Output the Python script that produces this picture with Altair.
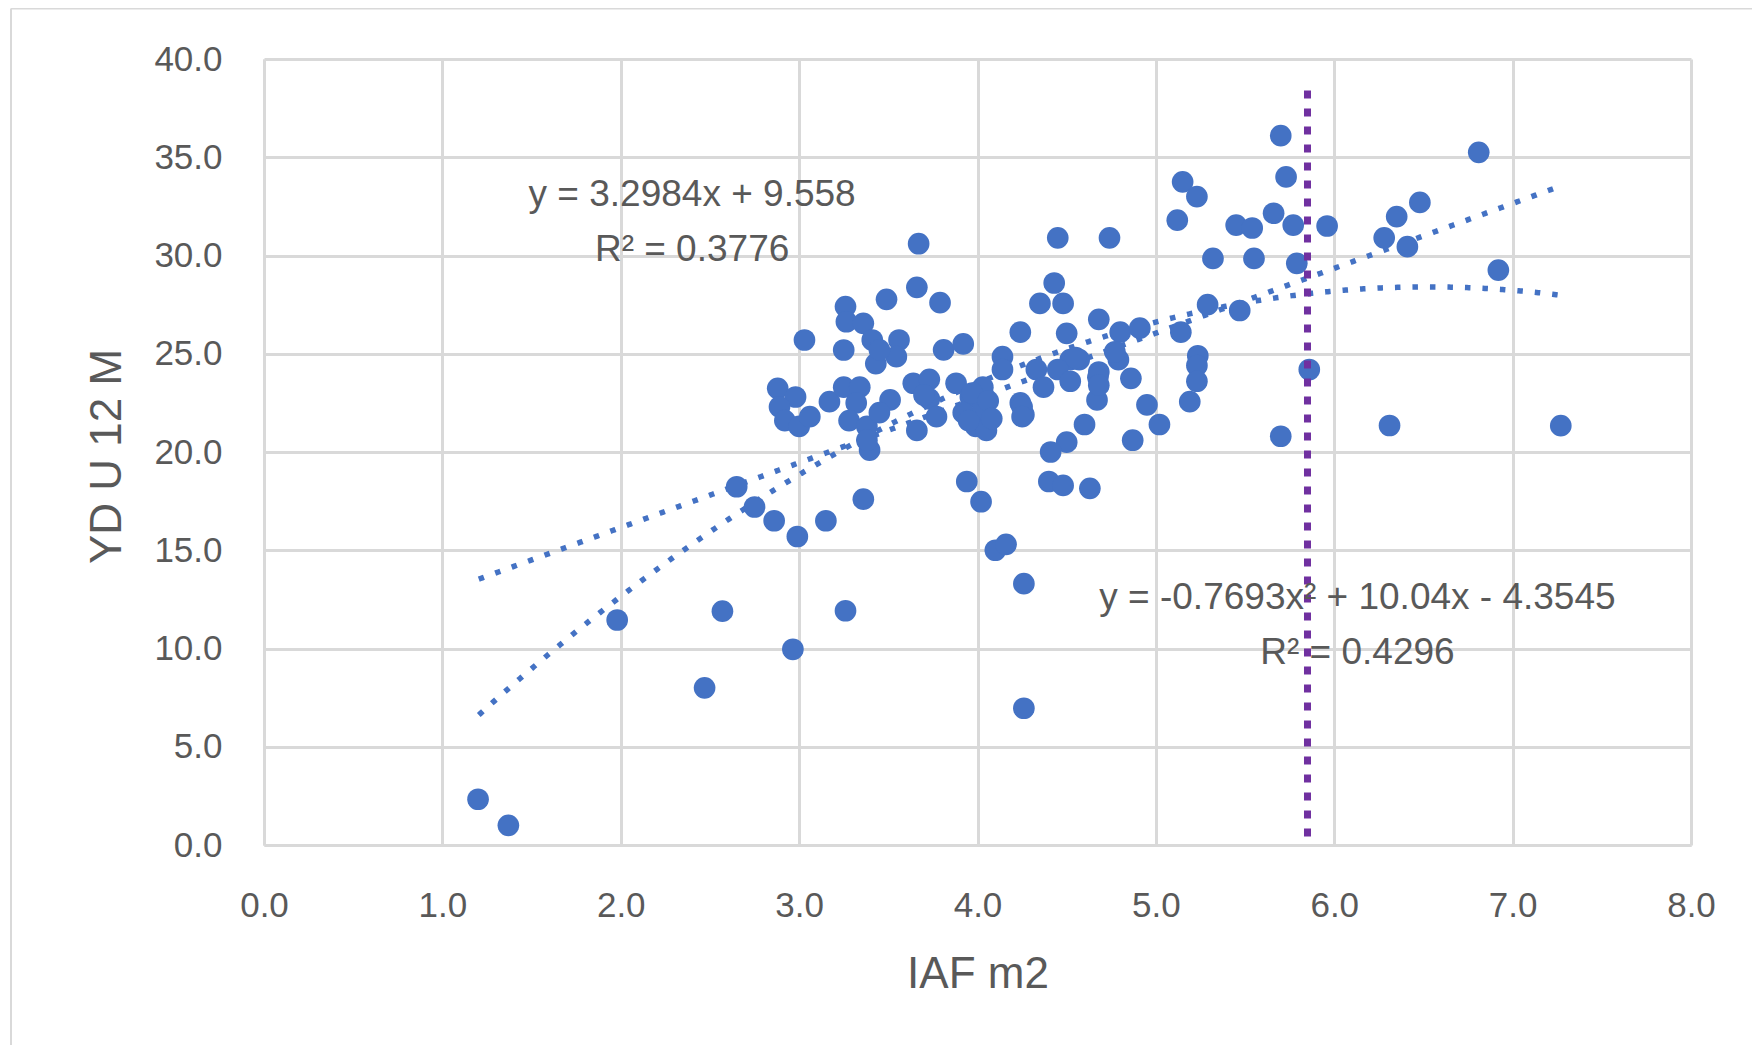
import altair as alt
import pandas as pd

# ---- data ----
iaf = [1.20, 1.37, 1.98, 2.47, 2.57, 2.965, 3.26, 4.26, 4.26, 4.10, 4.16,
       2.65, 2.75, 2.86, 2.99, 3.15, 3.36, 3.94, 4.02,
       3.66, 3.49, 3.79, 3.26, 3.265, 3.36, 3.03, 3.25, 3.41, 3.56, 3.43, 3.545, 3.45,
       3.81, 3.92, 4.24, 4.14, 4.14,
       2.88, 2.98, 2.89, 2.92, 3.00, 3.06, 3.17, 3.25, 3.34, 3.32, 3.28, 3.38, 3.51, 3.45,
       3.395, 3.38, 3.66, 3.64, 3.73, 3.73, 3.77, 3.88, 3.96, 4.03, 3.92, 3.99, 4.05, 4.03,
       4.24, 4.26, 3.67,
       4.43, 4.35, 4.48, 4.50, 4.68, 4.80, 4.91, 5.14, 5.29, 5.47, 5.79, 5.86, 5.70,
       5.235, 5.23, 5.23, 5.19, 5.02, 4.95, 4.87, 4.86, 4.79, 4.67, 4.675, 4.60, 4.50, 4.41,
       4.40, 4.48, 4.63, 4.52, 4.57, 4.45, 4.33, 4.37, 4.52, 4.25, 4.25,
       5.70, 5.73, 5.15, 5.23, 5.12, 4.45, 4.74, 5.45, 5.54, 5.66, 5.77, 5.32, 5.55, 5.96,
       6.81, 6.48, 6.35, 6.28, 6.41, 6.92, 7.27, 6.31,
       3.97, 4.06, 3.95, 4.08, 3.70, 4.77, 4.68, 4.68, 4.55]
yd = [2.33, 1.0, 11.45, 8.0, 11.9, 9.96, 11.92, 6.96, 13.3, 15.0, 15.3,
      18.23, 17.2, 16.5, 15.7, 16.5, 17.6, 18.5, 17.47,
      28.38, 27.77, 27.6, 27.4, 26.63, 26.55, 25.7, 25.19, 25.7, 25.7, 24.5, 24.85, 25.2,
      25.2, 25.5, 26.1, 24.85, 24.2,
      23.24, 22.8, 22.3, 21.6, 21.3, 21.8, 22.56, 23.3, 23.3, 22.5, 21.6, 21.3, 22.65, 22.0,
      20.1, 20.6, 21.1, 23.5, 23.7, 22.7, 21.8, 23.5, 22.8, 23.3, 22.0, 21.3, 21.1, 22.2,
      22.5, 21.9, 30.6,
      28.6, 27.56, 27.56, 26.04, 26.75, 26.1, 26.3, 26.1, 27.5, 27.2, 29.6, 24.2, 20.8,
      24.9, 24.4, 23.6, 22.56, 21.4, 22.4, 20.6, 23.75, 24.7, 22.65, 23.8, 21.4, 20.5, 20.0,
      18.5, 18.3, 18.15, 24.7, 24.7, 24.2, 24.2, 23.3, 23.6, 22.3, 21.8,
      36.1, 34.0, 33.75, 33.0, 31.8, 30.9, 30.9, 31.55, 31.4, 32.15, 31.55, 29.85, 29.85, 31.5,
      35.25, 32.7, 31.98, 30.9, 30.45, 29.26, 21.34, 21.35,
      23.0, 22.6, 21.6, 21.7, 22.9, 25.1, 24.07, 23.4, 24.8]

lin_coef = [3.2984, 9.558]             # slope, intercept
poly_coef = [-0.7693, 10.04, -4.3545]  # a, b, c
trend_range = [1.204, 7.27]
threshold_x = [5.85]
threshold_y = [0.4, 38.4]

eq_texts = ["y = 3.2984x  + 9.558", "R\u00b2 = 0.3776",
            "y = -0.7693x\u00b2  + 10.04x  - 4.3545", "R\u00b2 = 0.4296"]
eq_x = [2.40, 2.40, 6.13, 6.13]
eq_y = [33.1, 30.3, 12.55, 9.75]

x_ticks = [0, 1, 2, 3, 4, 5, 6, 7, 8]
y_ticks = [0, 5, 10, 15, 20, 25, 30, 35, 40]

# ---- style ----
FONT = "Liberation Sans"
TXT = "#595959"
GRID = "#d9d9d9"
BLUE = "#4472C4"
PURPLE = "#7030A0"
W, H = 1427, 786
PL, PT, PR, PB = 256, 51, 61, 200

xs = alt.Scale(domain=[0, 8], nice=False, zero=False)
ys = alt.Scale(domain=[0, 40], nice=False, zero=False)

x_axis = alt.Axis(values=x_ticks, format=".1f", title="IAF m2", grid=True,
                  gridColor=GRID, gridWidth=3, domainColor=GRID, domainWidth=3,
                  ticks=False, tickSize=0, labelPadding=60, labelBaseline="middle",
                  labelFlush=False, labelOverlap=False,
                  labelFont=FONT, labelFontSize=35, labelColor=TXT,
                  titleFont=FONT, titleFontSize=44, titleColor=TXT, titleFontWeight="normal",
                  titleX=W / 2, titleY=129, titleAlign="center", titleBaseline="middle")
y_axis = alt.Axis(values=y_ticks, format=".1f", title="YD U 12 M", grid=True,
                  gridColor=GRID, gridWidth=3, domainColor=GRID, domainWidth=3,
                  ticks=False, tickSize=0, labelPadding=42, labelAlign="right",
                  labelBaseline="middle", labelFlush=False, labelOverlap=False,
                  labelFont=FONT, labelFontSize=35, labelColor=TXT,
                  titleFont=FONT, titleFontSize=44, titleColor=TXT, titleFontWeight="normal",
                  titleX=-157, titleY=H / 2 + 4, titleAngle=270, titleAlign="center",
                  titleBaseline="middle")


def X(field):
    return alt.X(field, type="quantitative", scale=xs, axis=x_axis)


def Y(field):
    return alt.Y(field, type="quantitative", scale=ys, axis=y_axis)


pts = pd.DataFrame({"iaf": iaf, "yd": yd})
points = alt.Chart(pts).mark_circle(size=470, color=BLUE, opacity=1).encode(
    x=X("iaf"), y=Y("yd"))

seq = alt.sequence(trend_range[0], trend_range[1] + 0.005, 0.01, as_="x")
lin = alt.Chart(seq).transform_calculate(
    y=f"{lin_coef[0]} * datum.x + {lin_coef[1]}"
).mark_line(color=BLUE, strokeWidth=5.5, strokeDash=[5.5, 12], strokeCap="butt").encode(
    x=X("x"), y=Y("y"))
poly = alt.Chart(seq).transform_calculate(
    y=f"({poly_coef[0]}) * datum.x * datum.x + {poly_coef[1]} * datum.x + ({poly_coef[2]})"
).mark_line(color=BLUE, strokeWidth=5.5, strokeDash=[5.5, 12], strokeCap="butt").encode(
    x=X("x"), y=Y("y"))

thr = pd.DataFrame({"x": threshold_x, "y": [threshold_y[1]], "y2": [threshold_y[0]]})
vline = alt.Chart(thr).mark_rule(color=PURPLE, strokeWidth=7, strokeDash=[8, 10]).encode(
    x=X("x"), y=Y("y"), y2="y2:Q")

ann = pd.DataFrame({"t": eq_texts, "x": eq_x, "y": eq_y})
texts = alt.Chart(ann).mark_text(font=FONT, fontSize=37, color=TXT, align="center",
                                 baseline="middle").encode(x=X("x"), y=Y("y"), text="t:N")

one = pd.DataFrame({"a": [0]})
frame_top = alt.Chart(one).mark_rule(color=GRID, strokeWidth=2).encode(
    x=alt.value(-PL + 3), x2=alt.value(W + PR), y=alt.value(-PT + 0.5))
frame_left = alt.Chart(one).mark_rule(color=GRID, strokeWidth=2).encode(
    x=alt.value(-PL + 3), y=alt.value(-PT + 0.5), y2=alt.value(H + PB))

chart = alt.layer(frame_top, frame_left, lin, poly, points, vline, texts).properties(
    width=W, height=H,
    padding={"left": PL, "top": PT, "right": PR, "bottom": PB},
    autosize=alt.AutoSizeParams(type="none"),
    background="white",
).configure_view(strokeWidth=0)

chart.save("out.html", embed_options={"renderer": "svg", "actions": False})
